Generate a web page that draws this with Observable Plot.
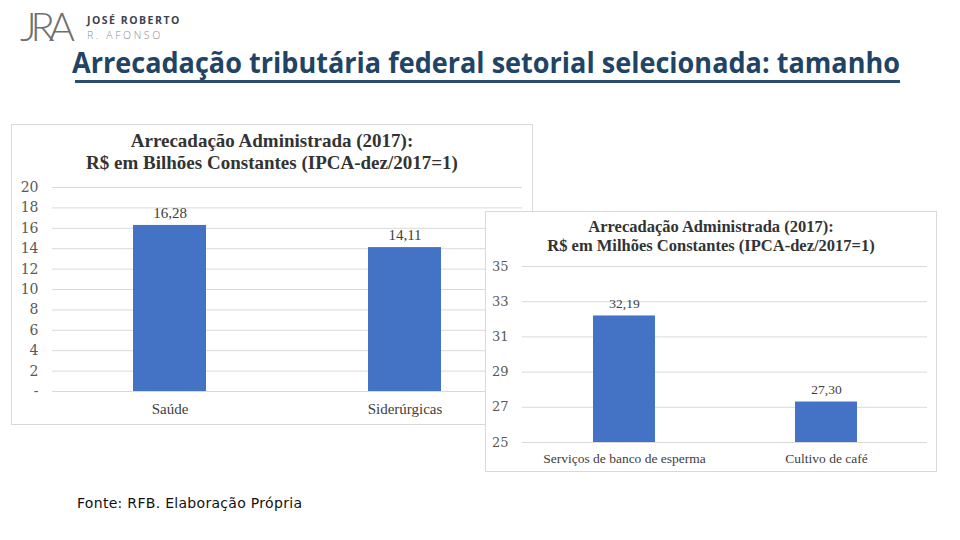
<!DOCTYPE html>
<html>
<head>
<meta charset="utf-8">
<script src="https://cdn.jsdelivr.net/npm/d3@7"></script>
<script src="https://cdn.jsdelivr.net/npm/@observablehq/plot@0.6"></script>
<style>
  html, body { margin: 0; padding: 0; background: #fff; }
  #page { position: relative; width: 960px; height: 540px; overflow: hidden; background: #fff; }
  .abs { position: absolute; }
  .panel { position: absolute; background: #fff; border: 1px solid #d9d9d9; box-sizing: border-box; }
  .ptitle { position: absolute; left: 0; right: 0; text-align: center; font-family: "Liberation Serif", serif; font-weight: bold; color: #333; white-space: nowrap; }
  .plotwrap { position: absolute; }
</style>
</head>
<body>
<div id="page">
  <!-- logo -->
  <div class="abs" style="left:20px; top:6px; font-family:Lato, sans-serif; font-weight:300; font-size:40px; color:#6f6f6f; letter-spacing:-6px; line-height:40px;">JRA</div>
  <div class="abs" style="left:87px; top:14px; font-family:'Open Sans', sans-serif; font-weight:700; font-size:10.5px; line-height:12px; color:#3d4450; letter-spacing:1.5px;">JOSÉ ROBERTO</div>
  <div class="abs" style="left:87px; top:29px; font-family:'Open Sans', sans-serif; font-weight:300; font-size:10.5px; line-height:12px; color:#8c8c8c; letter-spacing:2.6px;">R. AFONSO</div>

  <!-- main title -->
  <svg class="abs" style="left:0; top:36px;" width="960" height="52">
    <text x="72" y="37" textLength="828" lengthAdjust="spacingAndGlyphs" font-family="'Open Sans', sans-serif" font-weight="700" font-size="29" fill="#1f4466">Arrecadação tributária federal setorial selecionada: tamanho</text>
    <rect x="75" y="44" width="825" height="3" fill="#2b4d6e"></rect>
  </svg>

  <!-- chart 1 -->
  <div class="panel" style="left:11px; top:124px; width:522px; height:301px;">
    <div class="ptitle" style="top:5px; font-size:19px; line-height:22px;">Arrecadação Administrada (2017):<br>R$ em Bilhões Constantes (IPCA-dez/2017=1)</div>
  </div>
  <div class="plotwrap" id="chart1" style="left:11px; top:175px;"></div>

  <!-- chart 2 -->
  <div class="panel" style="left:485px; top:211px; width:452px; height:261px; z-index:2;">
    <div class="ptitle" style="top:5px; font-size:16.5px; line-height:19px;">Arrecadação Administrada (2017):<br>R$ em Milhões Constantes (IPCA-dez/2017=1)</div>
  </div>
  <div class="plotwrap" id="chart2" style="left:485px; top:255px; z-index:3;"></div>

  <!-- source -->
  <div class="abs" style="left:77px; top:495px; font-family:'DejaVu Sans', sans-serif; font-size:14px; letter-spacing:0.3px; color:#111;">Fonte: RFB. Elaboração Própria</div>
</div>

<script>
// ---- data ----
const categories1 = ["Saúde", "Siderúrgicas"];
const values1 = [16.28, 14.11];
const yTicks1 = [0, 2, 4, 6, 8, 10, 12, 14, 16, 18, 20];

const categories2 = ["Serviços de banco de esperma", "Cultivo de café"];
const values2 = [32.19, 27.30];
const yTicks2 = [25, 27, 29, 31, 33, 35];

const barColor = "#4472c4";
const fmt = v => v.toFixed(2).replace(".", ",");

function chart({cats, vals, ticks, width, height, mt, mr, mb, ml, inset, tickFs, catFs, valFs, catPad, zeroDash}) {
  const data = cats.map((c, i) => ({cat: c, value: vals[i]}));
  return Plot.plot({
    width, height,
    marginTop: mt, marginRight: mr, marginBottom: mb, marginLeft: ml,
    x: {domain: cats, padding: 0, label: null},
    y: {domain: [ticks[0], ticks[ticks.length - 1]], label: null},
    style: {background: "transparent", color: "#595959", overflow: "visible"},
    marks: [
      Plot.gridY(ticks, {stroke: "#d9d9d9", strokeOpacity: 1}),
      Plot.ruleY([ticks[0]], {stroke: "#d9d9d9"}),
      Plot.axisY(ticks, {tickSize: 0, tickPadding: 14, fontSize: tickFs, fontFamily: "DejaVu Serif, serif", fill: "#595959",
        tickFormat: d => (zeroDash && d === 0) ? "-" : String(d)}),
      Plot.axisX({tickSize: 0, tickPadding: catPad, fontSize: catFs, fontFamily: "Liberation Serif, serif", fill: "#404040"}),
      Plot.barY(data, {x: "cat", y: "value", fill: barColor, insetLeft: inset, insetRight: inset, clip: true}),
      Plot.text(data, {x: "cat", y: "value", text: d => fmt(d.value), dy: -12, fontSize: valFs, fontFamily: "Liberation Serif, serif", fill: "#404040"})
    ]
  });
}

document.getElementById("chart1").append(chart({
  cats: categories1, vals: values1, ticks: yTicks1,
  width: 521, height: 245, mt: 12, mr: 10, mb: 29, ml: 41, inset: 81,
  tickFs: 14, catFs: 15, valFs: 15, catPad: 12, zeroDash: true
}));

document.getElementById("chart2").append(chart({
  cats: categories2, vals: values2, ticks: yTicks2,
  width: 451, height: 212, mt: 11, mr: 9, mb: 25, ml: 37, inset: 70,
  tickFs: 13, catFs: 13.5, valFs: 13.5, catPad: 11, zeroDash: false
}));
</script>
</body>
</html>
